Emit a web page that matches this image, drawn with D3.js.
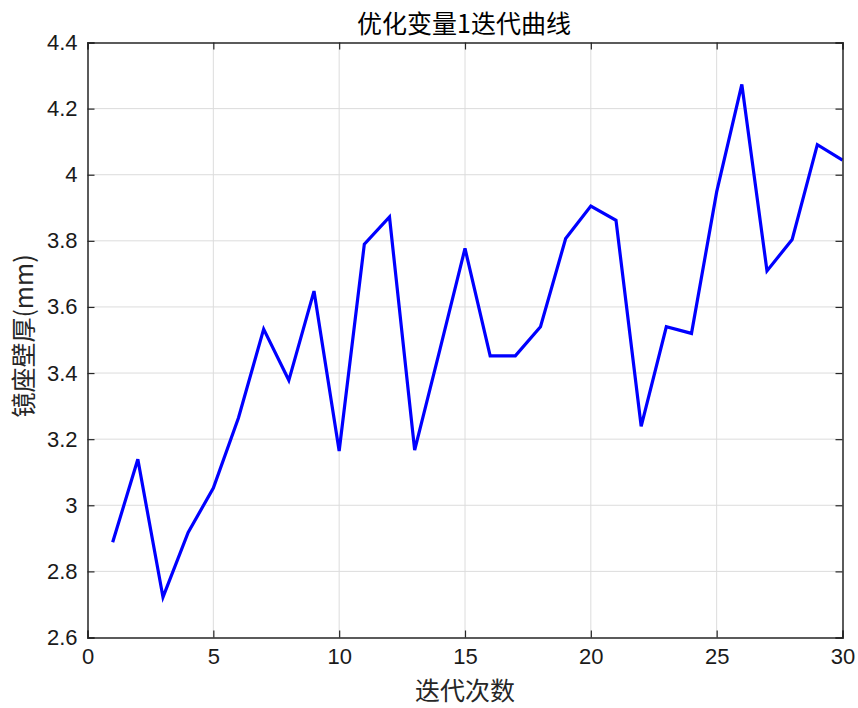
<!DOCTYPE html>
<html><head><meta charset="utf-8">
<script src="https://cdn.jsdelivr.net/npm/d3@7"></script>
<style>html,body{margin:0;padding:0;background:#fff;}</style>
</head><body>
<svg id="chart" width="858" height="708"></svg>
<script>
const iterations = [1,2,3,4,5,6,7,8,9,10,11,12,13,14,15,16,17,18,19,20,21,22,23,24,25,26,27,28,29,30];
const thickness = [2.888,3.139,2.722,2.918,3.052,3.265,3.533,3.378,3.648,3.164,3.790,3.872,3.167,3.470,3.777,3.452,3.452,3.540,3.807,3.905,3.862,3.239,3.540,3.520,3.948,4.273,3.709,3.804,4.091,4.044];
const xTicks = [0,5,10,15,20,25,30];
const yTicks = [2.6,2.8,3,3.2,3.4,3.6,3.8,4,4.2,4.4];
const titleText = "优化变量1迭代曲线";
const xLabel = "迭代次数";
const yLabel = "镜座壁厚(mm)";

const svg = d3.select("#chart");
const L = 87.5, R = 842.5, T = 42.5, B = 637.5;
const x = d3.scaleLinear().domain([0,30]).range([L,R]);
const y = d3.scaleLinear().domain([2.6,4.4]).range([B,T]);
const fontNum = "'Liberation Sans', Arial, sans-serif";
const fontCJK = "'Noto Sans CJK SC', sans-serif";
const axisCol = "#262626";

// grid
const g = svg.append("g");
g.selectAll(".gx").data(xTicks.slice(1,-1)).enter().append("line")
  .attr("x1",d=>x(d)).attr("x2",d=>x(d)).attr("y1",T).attr("y2",B)
  .attr("stroke","#dcdcdc").attr("stroke-width",1);
g.selectAll(".gy").data(yTicks.slice(1,-1)).enter().append("line")
  .attr("y1",d=>y(d)).attr("y2",d=>y(d)).attr("x1",L).attr("x2",R)
  .attr("stroke","#dcdcdc").attr("stroke-width",1);

// line
const line = d3.line().x((d,i)=>x(iterations[i])).y(d=>y(d));
svg.append("path").datum(thickness).attr("d",line)
  .attr("fill","none").attr("stroke","#0000ff").attr("stroke-width",3.2)
  .attr("stroke-linejoin","miter");

// axes with inward ticks
const tl = 7;
const xAxisB = d3.axisBottom(x).tickValues(xTicks).tickSize(-tl).tickPadding(11).tickFormat(d3.format("d"));
const xAxisT = d3.axisTop(x).tickValues(xTicks).tickSize(-tl).tickFormat("");
const yAxisL = d3.axisLeft(y).tickValues(yTicks).tickSize(-tl).tickPadding(10).tickFormat(d=>String(+d.toFixed(1)));
const yAxisR = d3.axisRight(y).tickValues(yTicks).tickSize(-tl).tickFormat("");

function style(sel){
  sel.select(".domain").attr("stroke",axisCol).attr("stroke-width",1.5);
  sel.selectAll(".tick line").attr("stroke",axisCol).attr("stroke-width",1.2);
  sel.selectAll(".tick text").attr("fill","#1a1a1a").attr("font-family",fontNum).attr("font-size",22);
}
svg.append("g").attr("transform",`translate(0,${B})`).call(xAxisB).call(style);
svg.append("g").attr("transform",`translate(0,${T})`).call(xAxisT).call(style);
svg.append("g").attr("transform",`translate(${L},0)`).call(yAxisL).call(style);
svg.append("g").attr("transform",`translate(${R},0)`).call(yAxisR).call(style);

// title & labels
svg.append("text").attr("x",464).attr("y",33).attr("text-anchor","middle")
  .attr("font-family",fontCJK).attr("font-size",25).attr("fill","#000").text(titleText);
svg.append("text").attr("x",465).attr("y",700).attr("text-anchor","middle")
  .attr("font-family",fontCJK).attr("font-size",25).attr("fill","#262626").text(xLabel);
svg.append("text").attr("transform",`translate(33,336) rotate(-90)`).attr("text-anchor","middle")
  .attr("font-family",fontCJK).attr("font-size",25).attr("fill","#262626").text(yLabel);
</script>
</body></html>
